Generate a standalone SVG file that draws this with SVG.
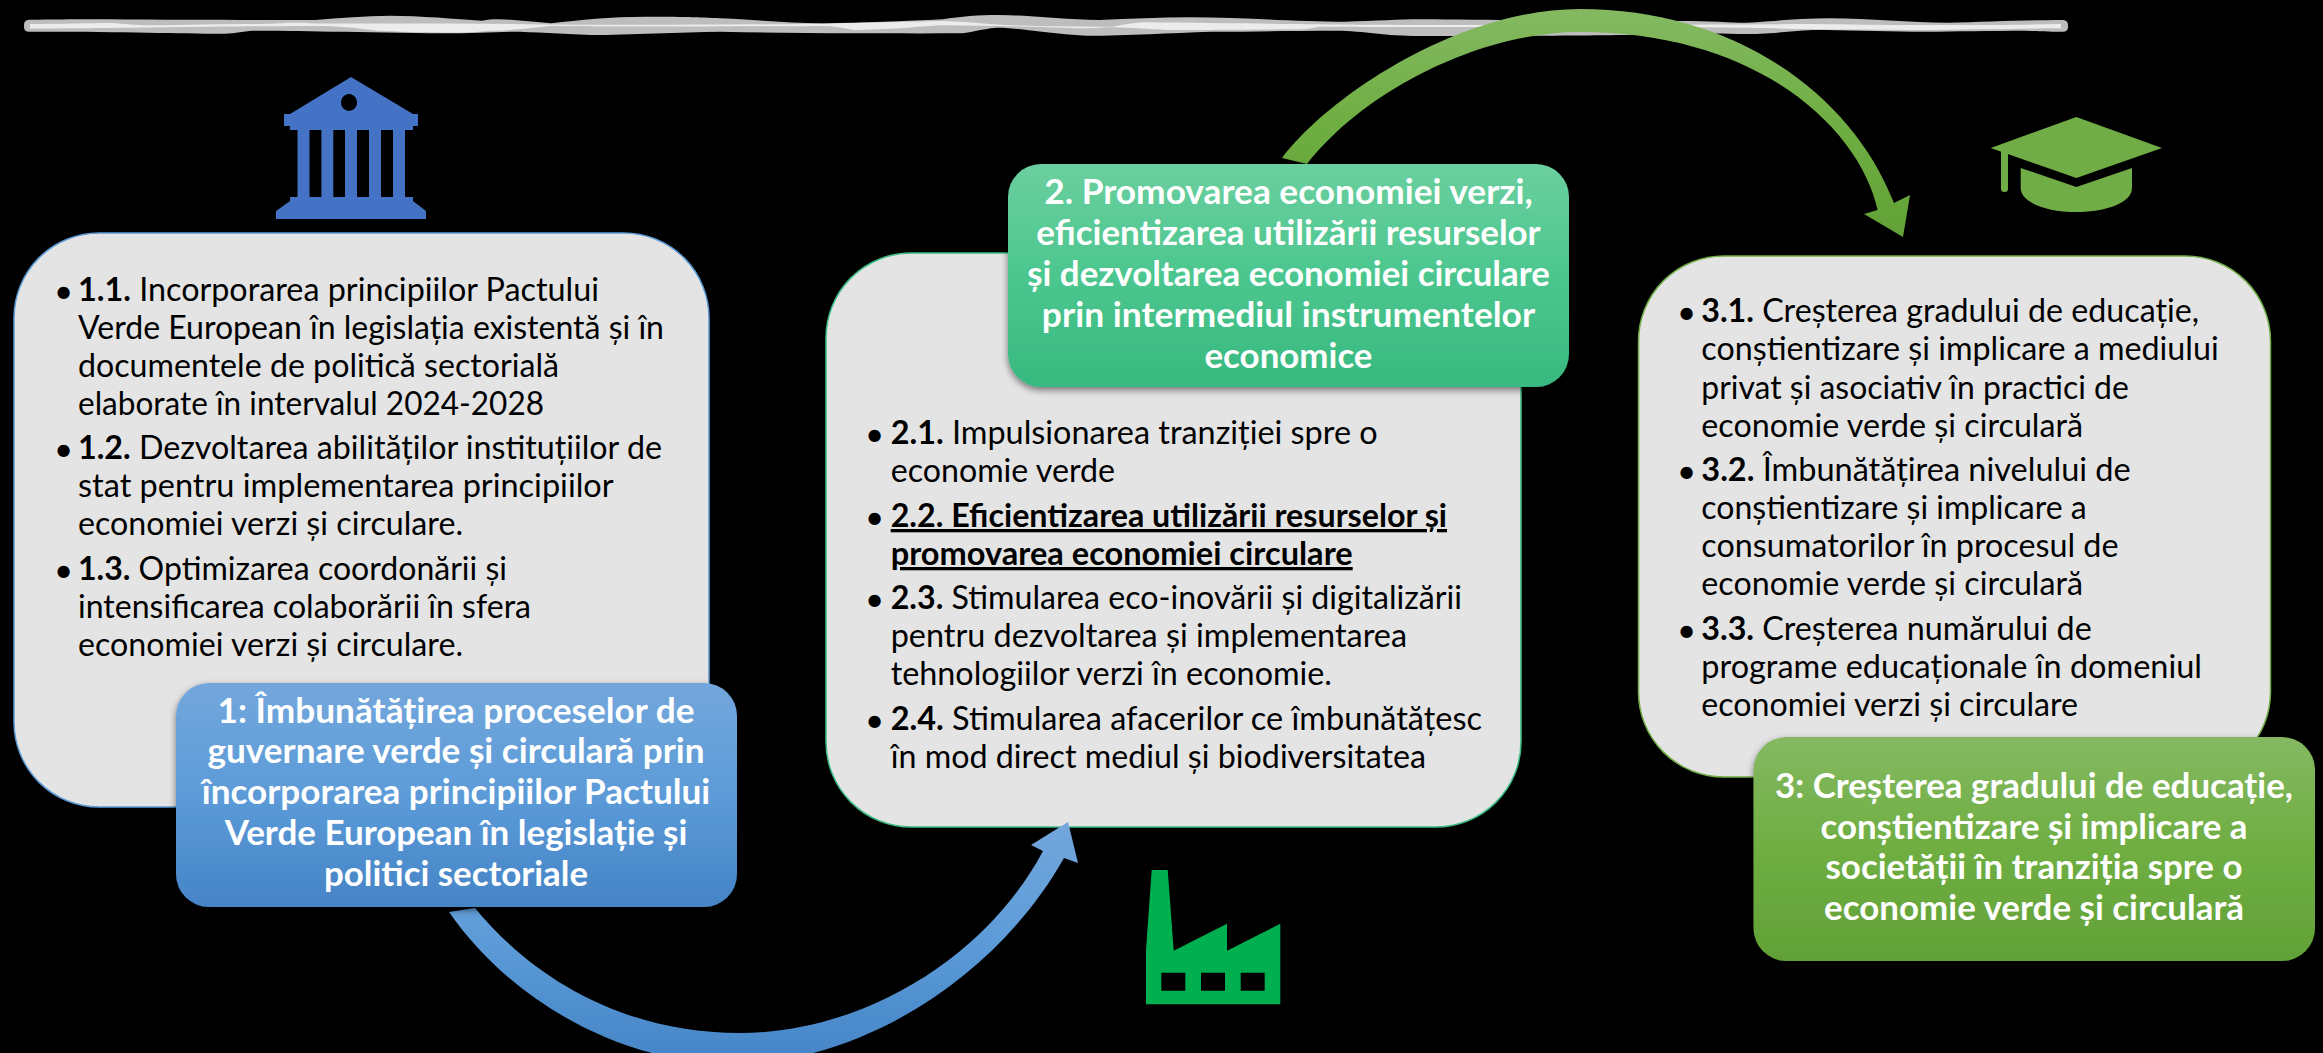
<svg xmlns="http://www.w3.org/2000/svg" width="2323" height="1053" viewBox="0 0 2323 1053">
<defs>
<style>
text{font-family:Lato,"Open Sans","Noto Sans",sans-serif}
.t{font-size:33px;fill:#000}
.bu{font-size:33px;fill:#000}
.l{font-size:35px;font-weight:700;fill:#fff;text-anchor:middle}
.b{font-weight:700}
.box{fill:#e4e4e4;stroke-width:1.5}
</style>
<linearGradient id="g1" x1="0" y1="0" x2="0" y2="1"><stop offset="0" stop-color="#73a7dc"/><stop offset=".5" stop-color="#5c9bd8"/><stop offset="1" stop-color="#4584c6"/></linearGradient>
<linearGradient id="g2" x1="0" y1="0" x2="0" y2="1"><stop offset="0" stop-color="#6bcf9f"/><stop offset=".5" stop-color="#4cc68f"/><stop offset="1" stop-color="#37b97f"/></linearGradient>
<linearGradient id="g3" x1="0" y1="0" x2="0" y2="1"><stop offset="0" stop-color="#84b962"/><stop offset=".5" stop-color="#6fae42"/><stop offset="1" stop-color="#62a136"/></linearGradient>
<filter id="sh" x="-5%" y="-5%" width="110%" height="115%"><feDropShadow dx="0" dy="3" stdDeviation="3.5" flood-color="#000" flood-opacity=".5"/></filter>
<filter id="soft" x="-1%" y="-30%" width="102%" height="160%"><feGaussianBlur stdDeviation=".7"/></filter>
</defs>
<rect width="2323" height="1053" fill="#000"/>

<g id="top-bar" filter="url(#soft)">
<path fill="#bdbdbd" d="M29 19.7C60 19.3 90 19 109 19.3C180 20 260 20 315 20C340 18 365 15.7 390 15.7C420 15.7 455 19 482 20.7C488 19.6 492 19.3 498 19.3C515 19.5 535 22 551 23.3C580 20 610 16.7 645 16.7C680 16.7 700 17 720 18.3C760 20 790 23.3 823 23.3C860 23 905 21 943 19.3C960 16.5 980 15 997 15C1030 15 1065 20 1099 20C1130 19 1160 17.3 1189 17.3C1240 17.3 1300 21.7 1345 21.7C1375 21 1400 19.3 1420 19.3C1500 20 1600 21 1680 21C1710 21 1730 22.7 1747 22.7C1775 21 1800 18.3 1830 18.3C1870 18.3 1910 22.7 1947 22.7C1985 22 2030 20 2063 20Q2068 20.500 2068 25V27Q2068 31.700 2063 31.700C2040 31.700 2030 30.700 2013 30.700C1975 31 1945 31.700 1913 31.700C1880 31.200 1845 30 1813 30C1790 31 1770 34 1747 34C1725 34 1700 33.300 1680 33.300C1640 35 1600 36 1420 36C1385 36 1365 31 1336 30.700C1290 30.700 1250 31.700 1211 31.700C1170 33 1130 35.700 1086 35.700C1050 34 1020 27.700 997 27.700C980 29 970 33.300 957 33.300C920 33.500 885 33.300 854 33.300C810 33.300 765 32.700 720 31.700C680 32 630 35 591 35C560 34 535 31.700 511 31.700C490 32.500 470 33.300 444 33.300C405 33 365 31.700 332 31.700C300 31 275 30.700 252 30.700C240 32 232 33.700 221 33.700C180 33.700 120 31.500 29 31.700Q24 31.700 24 27V25Q24 20 29 19.700Z"/>
<path fill="#ececec" d="M30 24C60 24 90 23 110 23C125 24 135 25 150 25.300C190 25 220 24 262 24C262 24 278 23.500 295 22.500C305 23 315 23.500 324 23.500C400 23.300 480 23.300 551 24.500C600 25 680 25 823 24C834 23.500 845 23 854 23C885 22.500 915 21.500 943 21C965 22 985 23.500 1005 25C1040 26.500 1080 26.800 1113 26.700C1122 25 1132 23 1144 22.300C1200 22.800 1250 23.500 1300 24C1350 24.800 1400 25 1480 25C1600 25 1700 24.500 1813 24C1850 24.500 1880 25 1913 25C1950 25 2000 25.300 2061 24V28.300C2000 28.500 1960 29.800 1913 30C1880 30 1845 29.500 1813 29.300C1770 28 1700 27 1600 27C1480 27 1400 27 1318 26.700C1312 28 1306 29 1300 29.300C1250 29.500 1210 30 1166 30C1150 29 1130 27.800 1113 27.300C1100 27.800 1090 28.300 1077 28.300C1060 27.600 1045 27 1032 26.700C1000 26 970 25.500 943 25.300C925 26 910 27.800 899 28.300C885 29 870 30 854 30C843 28 833 26 823 26C780 26.500 600 26.800 551 26C535 27.500 510 30.800 489 30.700C470 32.700 455 32.700 444 32.700C420 32.300 400 31.500 377 30.700C360 28.500 340 26 320 26C290 26 220 26.500 150 27.500C110 28 60 28.500 30 28.500Z"/>
</g>

<g id="icon-bank" fill="#4472c4">
<path fill-rule="evenodd" d="M351 77L413 114H418V126H413V130H405V197H413V201L426 211V219H276V211L290 201V197H297.500V130H290V126H284V114H290ZM309.500 130V197H321.400V130ZM333.300 130V197H345V130ZM357 130V197H369V130ZM381 130V197H393V130ZM349 94a8 8.500 0 1 0 .01 0Z"/>
</g>
<g id="icon-factory" fill="#00b050">
<path fill-rule="evenodd" d="M1151.700 870H1167.700L1173.700 950.700L1227 923.700V950.700L1280.300 923.700V1004.300H1146V950ZM1161.300 972.700V990.700H1185.300V972.700ZM1201 972.700V990.700H1225V972.700ZM1240.700 972.700V990.700H1264.700V972.700Z"/>
</g>
<g id="icon-graduation" fill="#70ad47">
<path d="M2076.400 117L2162 148L2076.400 178L1990.700 148Z"/>
<path d="M2020.700 168L2076.400 187L2132 168V188C2132 202 2108 212 2076.400 212C2045 212 2020.700 202 2020.700 188Z"/>
<path d="M2001 150L2008 153V189Q2008 192 2004.500 192Q2001 192 2001 189Z"/>
</g>

<g id="box-1"><rect class="box" x="14" y="233" width="695" height="574" rx="85" stroke="#5b9bd5"/>
<text class="bu" x="54" y="303">•</text>
<text class="t" x="78" y="301" textLength="521" lengthAdjust="spacingAndGlyphs"><tspan class="b">1.1.</tspan> Incorporarea principiilor Pactului</text>
<text class="t" x="78" y="339.300" textLength="586" lengthAdjust="spacingAndGlyphs">Verde European în legislația existentă și în</text>
<text class="t" x="78" y="377.300" textLength="481" lengthAdjust="spacingAndGlyphs">documentele de politică sectorială</text>
<text class="t" x="78" y="415.300" textLength="466" lengthAdjust="spacingAndGlyphs">elaborate în intervalul 2024-2028</text>
<text class="bu" x="54" y="461.300">•</text>
<text class="t" x="78" y="459.300" textLength="584" lengthAdjust="spacingAndGlyphs"><tspan class="b">1.2.</tspan> Dezvoltarea abilităților instituțiilor de</text>
<text class="t" x="78" y="497.300" textLength="535.600" lengthAdjust="spacingAndGlyphs">stat pentru implementarea principiilor</text>
<text class="t" x="78" y="535.300" textLength="385" lengthAdjust="spacingAndGlyphs">economiei verzi și circulare.</text>
<text class="bu" x="54" y="582">•</text>
<text class="t" x="78" y="580" textLength="429" lengthAdjust="spacingAndGlyphs"><tspan class="b">1.3.</tspan> Optimizarea coordonării și</text>
<text class="t" x="78" y="618" textLength="453" lengthAdjust="spacingAndGlyphs">intensificarea colaborării în sfera</text>
<text class="t" x="78" y="656" textLength="385" lengthAdjust="spacingAndGlyphs">economiei verzi și circulare.</text>
</g>

<g id="box-2"><rect class="box" x="826" y="253" width="695" height="574" rx="85" stroke="#3cbc84"/>
<text class="bu" x="865" y="446.300">•</text>
<text class="t" x="890.700" y="444.300" textLength="487" lengthAdjust="spacingAndGlyphs"><tspan class="b">2.1.</tspan> Impulsionarea tranziției spre o</text>
<text class="t" x="890.700" y="482.300" textLength="224.300" lengthAdjust="spacingAndGlyphs">economie verde</text>
<text class="bu" x="865" y="529">•</text>
<text class="t b" x="890.700" y="527" textLength="556.300" lengthAdjust="spacingAndGlyphs" text-decoration="underline">2.2. Eficientizarea utilizării resurselor și</text>
<text class="t b" x="890.700" y="565" textLength="462" lengthAdjust="spacingAndGlyphs" text-decoration="underline">promovarea economiei circulare</text>
<text class="bu" x="865" y="611">•</text>
<text class="t" x="890.700" y="609" textLength="571.300" lengthAdjust="spacingAndGlyphs"><tspan class="b">2.3.</tspan> Stimularea eco-inovării și digitalizării</text>
<text class="t" x="890.700" y="647" textLength="516.300" lengthAdjust="spacingAndGlyphs">pentru dezvoltarea și implementarea</text>
<text class="t" x="890.700" y="685" textLength="441.300" lengthAdjust="spacingAndGlyphs">tehnologiilor verzi în economie.</text>
<text class="bu" x="865" y="732">•</text>
<text class="t" x="890.700" y="730" textLength="591.300" lengthAdjust="spacingAndGlyphs"><tspan class="b">2.4.</tspan> Stimularea afacerilor ce îmbunătățesc</text>
<text class="t" x="890.700" y="768" textLength="535.300" lengthAdjust="spacingAndGlyphs">în mod direct mediul și biodiversitatea</text>
</g>

<g id="box-3"><rect class="box" x="1638.500" y="256" width="632" height="521" rx="85" stroke="#70ad47"/>
<text class="bu" x="1677" y="324.300">•</text>
<text class="t" x="1701.300" y="322.300" textLength="497.700" lengthAdjust="spacingAndGlyphs"><tspan class="b">3.1.</tspan> Creșterea gradului de educație,</text>
<text class="t" x="1701.300" y="360.300" textLength="517.400" lengthAdjust="spacingAndGlyphs">conștientizare și implicare a mediului</text>
<text class="t" x="1701.300" y="399.300" textLength="427.500" lengthAdjust="spacingAndGlyphs">privat și asociativ în practici de</text>
<text class="t" x="1701.300" y="437.300" textLength="381.700" lengthAdjust="spacingAndGlyphs">economie verde și circulară</text>
<text class="bu" x="1677" y="483">•</text>
<text class="t" x="1701.300" y="481" textLength="429.400" lengthAdjust="spacingAndGlyphs"><tspan class="b">3.2.</tspan> Îmbunătățirea nivelului de</text>
<text class="t" x="1701.300" y="519" textLength="385.400" lengthAdjust="spacingAndGlyphs">conștientizare și implicare a</text>
<text class="t" x="1701.300" y="557.300" textLength="417.200" lengthAdjust="spacingAndGlyphs">consumatorilor în procesul de</text>
<text class="t" x="1701.300" y="595.300" textLength="381.700" lengthAdjust="spacingAndGlyphs">economie verde și circulară</text>
<text class="bu" x="1677" y="642">•</text>
<text class="t" x="1701.300" y="640" textLength="390.400" lengthAdjust="spacingAndGlyphs"><tspan class="b">3.3.</tspan> Creșterea numărului de</text>
<text class="t" x="1701.300" y="678.300" textLength="500.700" lengthAdjust="spacingAndGlyphs">programe educaționale în domeniul</text>
<text class="t" x="1701.300" y="716.300" textLength="376.700" lengthAdjust="spacingAndGlyphs">economiei verzi și circulare</text>
</g>

<g id="connectors">
<path id="arrow-1" fill="url(#g1)" d="M449 912C510 1000 620 1064 735 1064C868 1062 1000 972 1064 858L1078 863L1068 822L1031 845L1043 851C985 960 860 1033 740 1033C620 1033 530 975 475 908Z"/>
<path id="arrow-2" fill="url(#g3)" d="M1282 158C1330 95 1460 9 1580 9C1730 9 1850 90 1894 203L1910 195L1903 237L1864 214L1877.600 210C1860 130 1760 32 1580 32C1480 32 1365 90 1307 164Z"/>
</g>

<g id="label-1"><rect x="176" y="683" width="561" height="224" rx="33" fill="url(#g1)" filter="url(#sh)"/>
<text class="l" x="456" y="722.700" textLength="477" lengthAdjust="spacingAndGlyphs">1: Îmbunătățirea proceselor de</text>
<text class="l" x="456" y="763.300" textLength="497" lengthAdjust="spacingAndGlyphs">guvernare verde și circulară prin</text>
<text class="l" x="456" y="804" textLength="508.500" lengthAdjust="spacingAndGlyphs">încorporarea principiilor Pactului</text>
<text class="l" x="456" y="845" textLength="462.600" lengthAdjust="spacingAndGlyphs">Verde European în legislație și</text>
<text class="l" x="456" y="886" textLength="264" lengthAdjust="spacingAndGlyphs">politici sectoriale</text>
</g>
<g id="label-2"><rect x="1008" y="164" width="561" height="223" rx="33" fill="url(#g2)" filter="url(#sh)"/>
<text class="l" x="1288.500" y="204" textLength="488.500" lengthAdjust="spacingAndGlyphs">2. Promovarea economiei verzi,</text>
<text class="l" x="1288.500" y="245" textLength="504.300" lengthAdjust="spacingAndGlyphs">eficientizarea utilizării resurselor</text>
<text class="l" x="1288.500" y="286" textLength="522.600" lengthAdjust="spacingAndGlyphs">și dezvoltarea economiei circulare</text>
<text class="l" x="1288.500" y="326.700" textLength="493.300" lengthAdjust="spacingAndGlyphs">prin intermediul instrumentelor</text>
<text class="l" x="1288.500" y="367.700" textLength="168" lengthAdjust="spacingAndGlyphs">economice</text>
</g>
<g id="label-3"><rect x="1753.500" y="737" width="561.500" height="224" rx="33" fill="url(#g3)" filter="url(#sh)"/>
<text class="l" x="2034" y="797.700" textLength="518" lengthAdjust="spacingAndGlyphs">3: Creșterea gradului de educație,</text>
<text class="l" x="2034" y="839" textLength="427" lengthAdjust="spacingAndGlyphs">conștientizare și implicare a</text>
<text class="l" x="2034" y="879.300" textLength="417" lengthAdjust="spacingAndGlyphs">societății în tranziția spre o</text>
<text class="l" x="2034" y="920" textLength="420" lengthAdjust="spacingAndGlyphs">economie verde și circulară</text>
</g>
</svg>
